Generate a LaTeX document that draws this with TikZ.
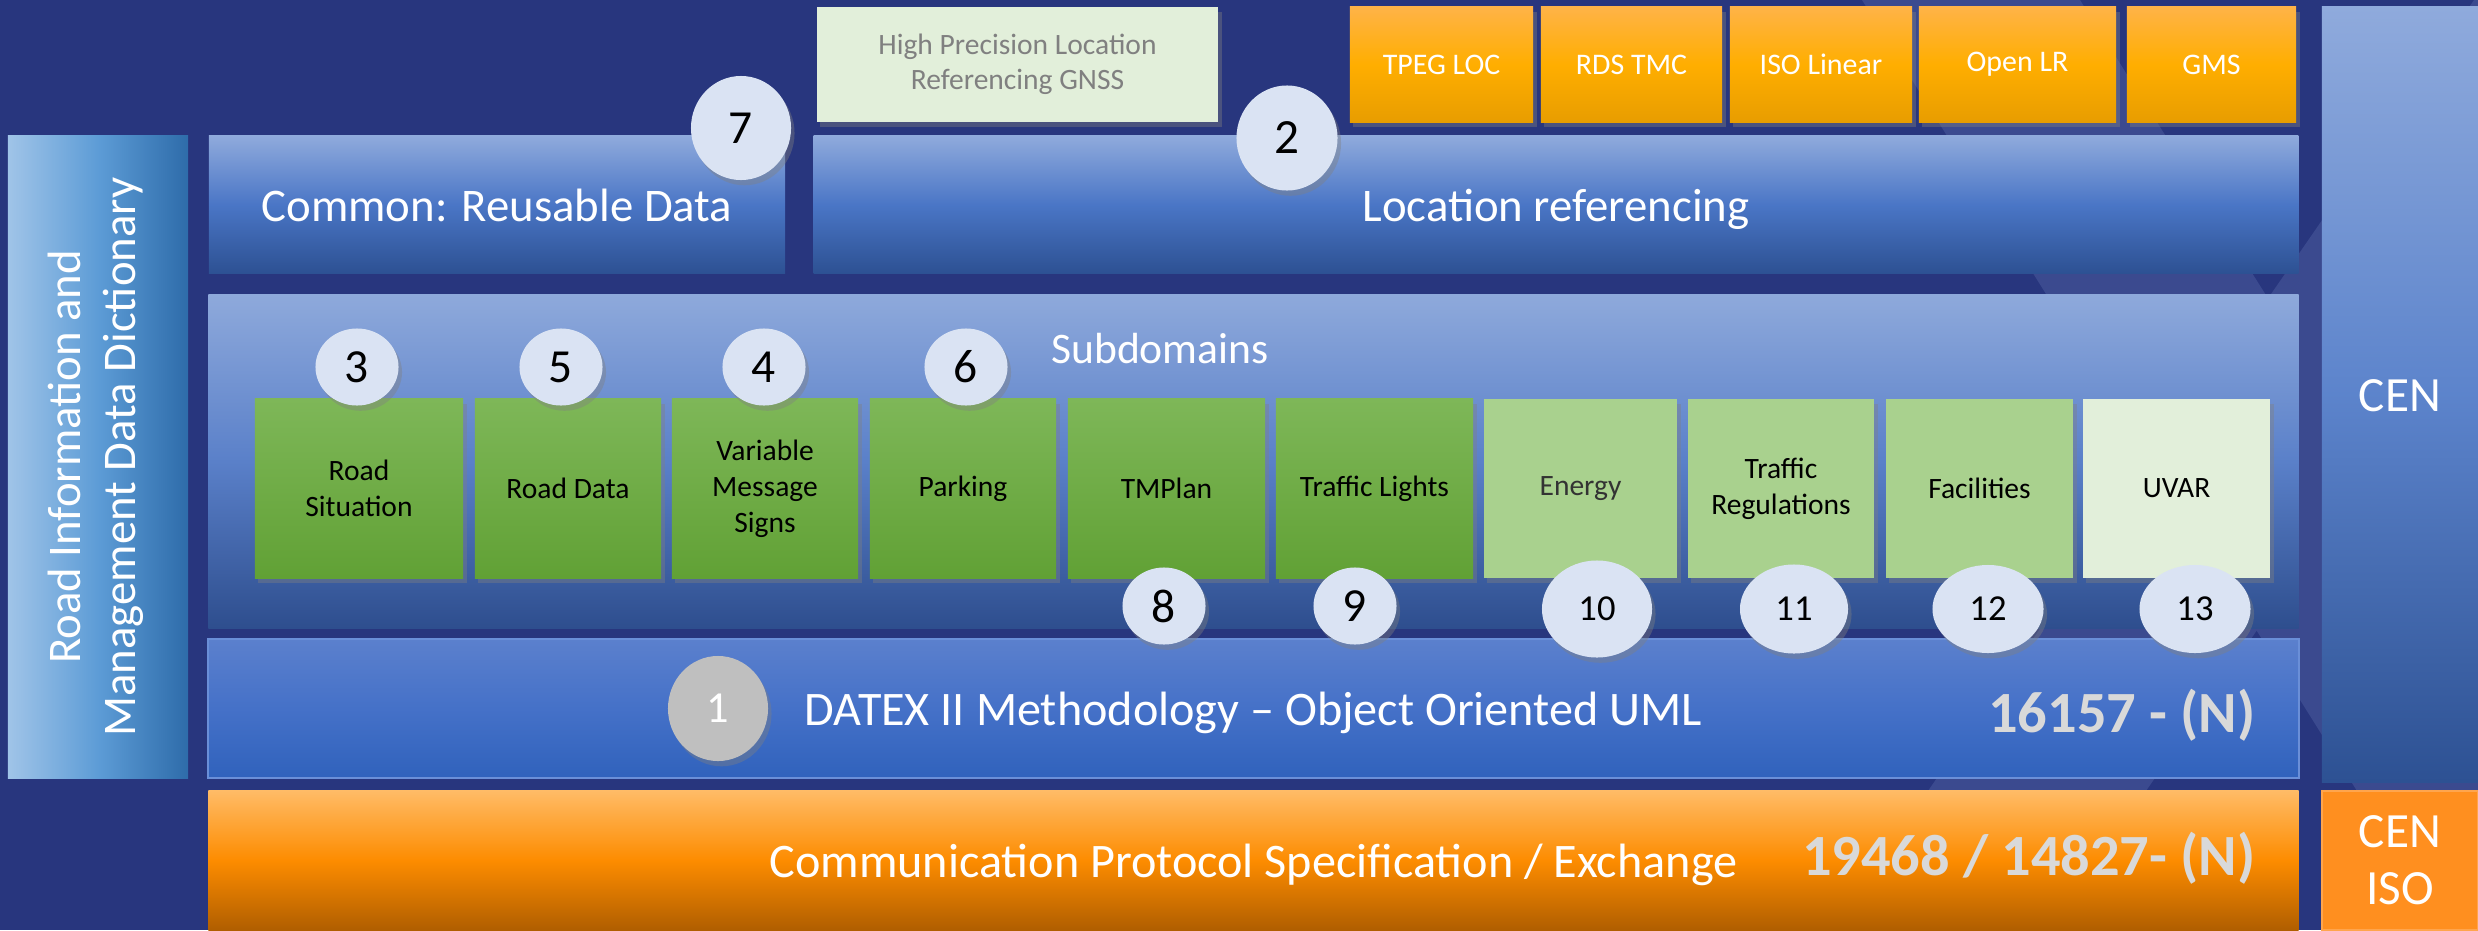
\documentclass[tikz,border=0pt]{standalone}
\usepackage{fontspec}
\setmainfont{Carlito}
\usetikzlibrary{positioning, shapes.geometric, shadows}

\definecolor{navyback}{HTML}{28367E}
\definecolor{navyband}{HTML}{3B4A8F}
\definecolor{panelTop}{HTML}{8FAADC}
\definecolor{panelMid}{HTML}{4A76C6}
\definecolor{panelBot}{HTML}{2D5193}
\definecolor{subTop}{HTML}{8EA9DB}
\definecolor{subMid}{HTML}{5A80C9}
\definecolor{subBot}{HTML}{2E4E8E}
\definecolor{datexTop}{HTML}{5B80CD}
\definecolor{datexMid}{HTML}{4571C8}
\definecolor{datexBot}{HTML}{3062BC}
\definecolor{datexLine}{HTML}{6A8FD8}
\definecolor{dictLeft}{HTML}{A0C4E8}
\definecolor{dictMid}{HTML}{5D9CD6}
\definecolor{dictRight}{HTML}{2E6CAA}
\definecolor{lrTop}{HTML}{FFB347}
\definecolor{lrMid}{HTML}{FFAE00}
\definecolor{lrBot}{HTML}{E89D00}
\definecolor{protoTop}{HTML}{FFBB66}
\definecolor{protoMid}{HTML}{FD8C00}
\definecolor{protoBot}{HTML}{B05E00}
\definecolor{isoFill}{HTML}{FF8F1F}
\definecolor{isoLine}{HTML}{FFA54D}
\definecolor{greenTop}{HTML}{7EB758}
\definecolor{greenBot}{HTML}{61A135}
\definecolor{greenLight}{HTML}{A9D18E}
\definecolor{greenPale}{HTML}{E2EFDA}
\definecolor{gnssText}{HTML}{808080}
\definecolor{discFill}{HTML}{DAE3F3}
\definecolor{discGrey}{HTML}{BFBFBF}
\definecolor{normGrey}{HTML}{D9D9D9}

\tikzset{
  box/.style={rectangle, inner sep=0pt, outer sep=0pt, align=center},
  softshadow/.style={drop shadow={shadow xshift=1pt, shadow yshift=-1.5pt, opacity=0.4}},
  panel/.style={box, text=white, font=\fontsize{13.3}{16}\selectfont, text height=9.5pt, text depth=0pt,
    top color=panelTop, bottom color=panelBot, middle color=panelMid},
  subpanel/.style={box, top color=subTop, bottom color=subBot, middle color=subMid},
  datexpanel/.style={panel, top color=datexTop, bottom color=datexBot, middle color=datexMid,
    draw=datexLine, line width=0.6pt, font=\fontsize{13.7}{16}\selectfont},
  protopanel/.style={panel, top color=protoTop, bottom color=protoBot, middle color=protoMid,
    font=\fontsize{13.7}{16}\selectfont},
  cenpanel/.style={panel, font=\fontsize{14}{16}\selectfont, middle color=panelMid!90!white},
  isotile/.style={box, fill=isoFill, draw=isoLine, line width=0.8pt, text=white,
    font=\fontsize{14}{16.2}\selectfont},
  dictpanel/.style={box, left color=dictLeft, right color=dictRight, middle color=dictMid},
  dictlabel/.style={box, rotate=90, text=white, font=\fontsize{13.3}{15.6}\selectfont},
  lrtile/.style={box, softshadow, minimum height=1.15cm, text=white, font=\fontsize{8.5}{10}\selectfont,
    top color=lrTop, bottom color=lrBot, middle color=lrMid},
  gnsstile/.style={box, softshadow, fill=greenPale, text=gnssText, font=\fontsize{8.4}{10}\selectfont},
  greentile/.style={box, softshadow, minimum height=1.79cm, text=black, font=\fontsize{8.4}{10.3}\selectfont},
  darktile/.style={greentile, top color=greenTop, bottom color=greenBot},
  lighttile/.style={greentile, fill=greenLight},
  paletile/.style={greentile, fill=greenPale},
  disc/.style={ellipse, inner sep=0pt, outer sep=0pt, fill=discFill, text=black, softshadow,
    minimum width=0.83cm, minimum height=0.77cm, font=\fontsize{13.5}{16}\selectfont},
  bigdisc/.style={minimum width=1.11cm, minimum height=0.88cm, font=\fontsize{10.4}{12}\selectfont},
  normnum/.style={inner sep=0pt, text=normGrey, font=\bfseries\fontsize{16.6}{20}\selectfont}
}

\begin{document}
\begin{tikzpicture}[x=0.01cm, y=-0.01cm]
\useasboundingbox (0,0) rectangle (2478,930);
\fill[navyback] (0,0) rectangle (2478,930);
\begin{scope}
  \clip (0,0) rectangle (2478,930);
  \fill[navyband] (1862,0) -- (2080,0) -- (2666,930) -- (2444,930) -- cycle;
  \fill[navyband] (2474,0) -- (2692,0) -- (2050,930) -- (1832,930) -- cycle;
\end{scope}

% dictionary column
\node[dictpanel, minimum width=1.8cm, minimum height=6.42cm] (dict) at (98,457) {};
\node[dictlabel] (dicttext) at (96,457) {Road Information and\\Management Data Dictionary};

% common data and location referencing
\node[panel, minimum width=5.76cm, minimum height=1.37cm] (common) at (497,204.5) {Common: Reusable Data};
\node[panel, minimum width=14.84cm, minimum height=1.37cm] (locref) at (1556,204.5) {Location referencing};
\node[gnsstile, minimum width=4.01cm, minimum height=1.15cm] (gnss) at (1017.5,64.5) {High Precision Location\\Referencing GNSS};
\node[lrtile, minimum width=1.83cm] (tpeg) at (1441.5,64.5) {TPEG LOC};
\node[lrtile, minimum width=1.81cm] (rdstmc) at (1631.5,64.5) {RDS TMC};
\node[lrtile, minimum width=1.82cm] (isolin) at (1821,64.5) {ISO Linear};
\node[lrtile, minimum width=1.97cm] (openlr) at (2017.5,64.5) {Open LR};
\node[lrtile, minimum width=1.69cm] (gms) at (2211.5,64.5) {GMS};

% subdomains
\node[subpanel, minimum width=20.89cm, minimum height=3.33cm] (subdom) at (1253.5,461.5) {};
\node[anchor=base, inner sep=0pt, text=white, font=\fontsize{12.4}{15}\selectfont] (subtitle) at (1160,363) {Subdomains};
\node[darktile, minimum width=2.08cm] (roadsit) at (359,488.5) {Road\\Situation};
\node[darktile, minimum width=1.86cm] (roaddata) at (568,488.5) {Road Data};
\node[darktile, minimum width=1.86cm] (vms) at (765,488.5) {Variable\\Message\\Signs};
\node[darktile, minimum width=1.86cm] (parking) at (963,488.5) {Parking};
\node[darktile, minimum width=1.97cm] (tmplan) at (1166.5,488.5) {TMPlan};
\node[darktile, minimum width=1.97cm] (lights) at (1374.5,488.5) {Traffic Lights};
\node[lighttile, minimum width=1.93cm, text=black!80] (energy) at (1580.5,488.5) {Energy};
\node[lighttile, minimum width=1.86cm] (regul) at (1781,488.5) {Traffic\\Regulations};
\node[lighttile, minimum width=1.87cm] (facil) at (1979.5,488.5) {Facilities};
\node[paletile, minimum width=1.87cm] (uvar) at (2176.5,488.5) {UVAR};

% methodology and protocol
\node[datexpanel, minimum width=20.89cm, minimum height=1.39cm] (datex) at (1253.5,708.5) {DATEX II Methodology – Object Oriented UML};
\node[normnum, anchor=base east] (datexnorm) at (2256,732) {16157 - (N)};
\node[protopanel, minimum width=20.89cm, minimum height=1.39cm] (proto) at (1253.5,860.5) {Communication Protocol Specification / Exchange};
\node[normnum, anchor=base east] (protonorm) at (2256,875) {19468 / 14827- (N)};

% standards bodies
\node[cenpanel, minimum width=1.56cm, minimum height=7.75cm] (cen) at (2400,394.5) {CEN};
\node[isotile, minimum width=1.56cm, minimum height=1.39cm] (ceniso) at (2400,860.5) {CEN\\ISO};

% numbered discs
\node[disc, minimum width=1cm, minimum height=1.04cm] (d7) at (741,128) {7};
\node[disc, minimum width=1.01cm, minimum height=1.05cm, font=\fontsize{14}{16}\selectfont] (d2) at (1287,138) {2};
\node[disc] (d3) at (357,367) {3};
\node[disc] (d5) at (561,367) {5};
\node[disc] (d4) at (764,367) {4};
\node[disc] (d6) at (966,367) {6};
\node[disc] (d8) at (1164,606) {8};
\node[disc] (d9) at (1355,606) {9};
\node[disc, bigdisc, minimum width=1.1cm, minimum height=0.97cm] (d10) at (1597,609) {10};
\node[disc, bigdisc, minimum width=1.08cm, minimum height=0.89cm] (d11) at (1794,609) {11};
\node[disc, bigdisc] (d12) at (1988,609) {12};
\node[disc, bigdisc] (d13) at (2195,609) {13};
\node[disc, fill=discGrey, text=white, minimum width=1cm, minimum height=1.05cm, font=\fontsize{12.6}{15}\selectfont] (d1) at (718,708.5) {1};
\end{tikzpicture}
\end{document}
